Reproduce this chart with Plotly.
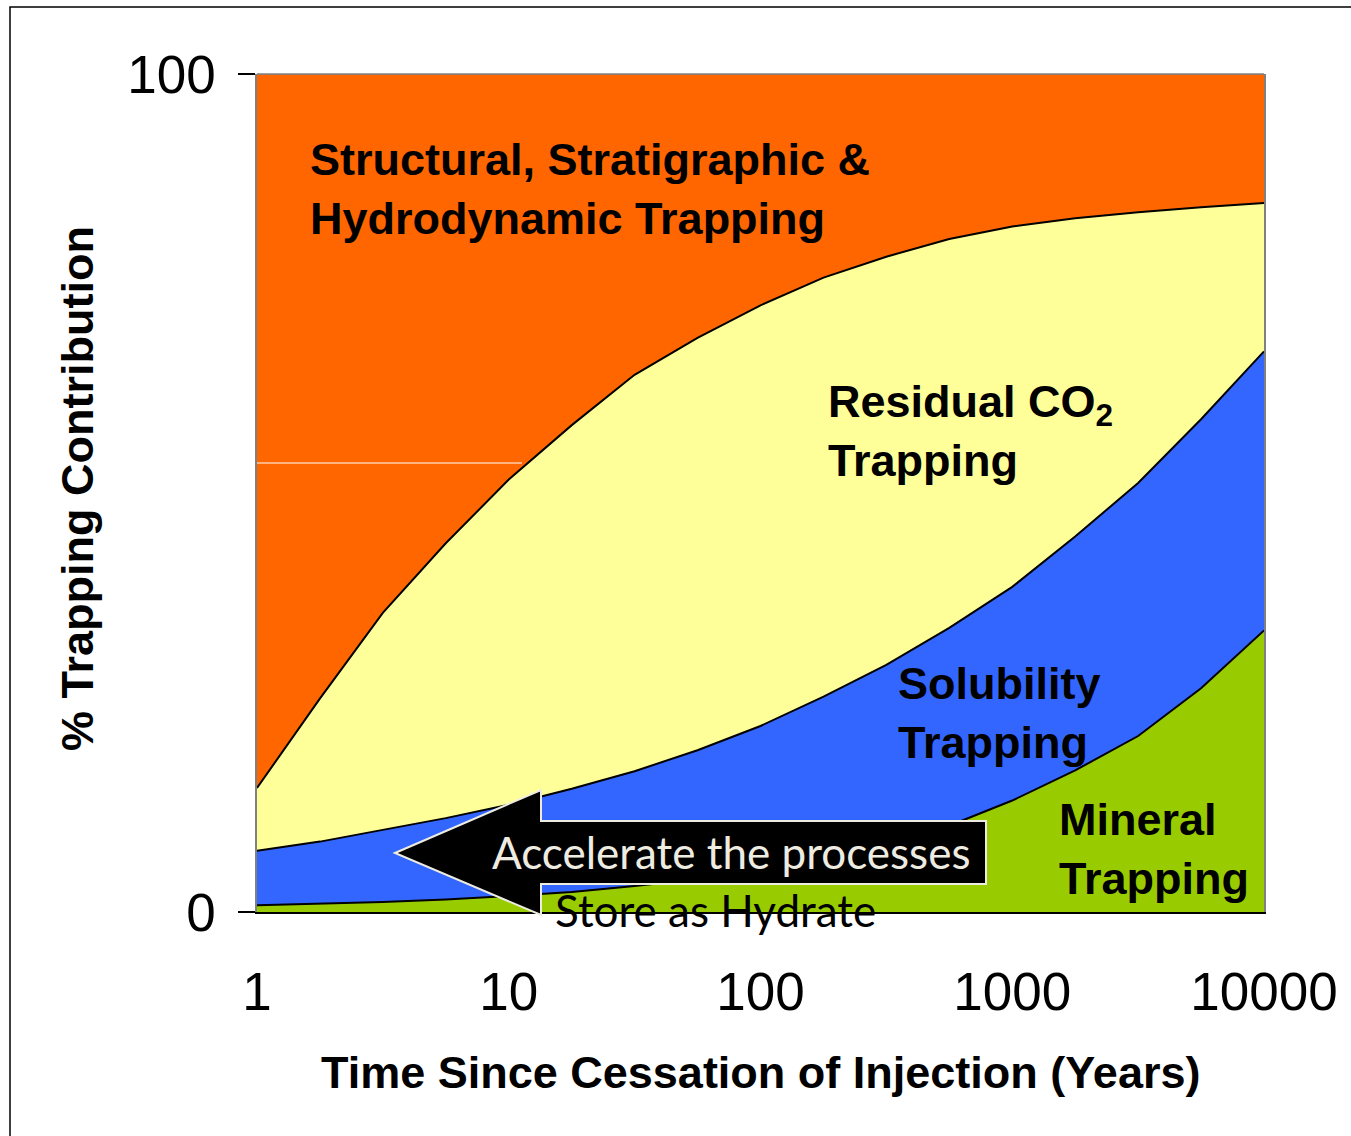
import plotly.graph_objects as go

# ---- data ----
years = [1, 1.78, 3.16, 5.62, 10, 17.8, 31.6, 56.2, 100, 178, 316, 562,
         1000, 1778, 3162, 5623, 10000]
# cumulative boundaries (% of total), bottom to top
mineral_top = [0.8, 1.0, 1.2, 1.5, 1.9, 2.4, 3.1, 3.9, 5.0, 6.3, 8.0, 10.3,
               13.3, 16.9, 21.0, 26.7, 33.6]
solubility_top = [7.3, 8.4, 9.8, 11.2, 12.8, 14.7, 16.8, 19.3, 22.2, 25.7,
                  29.5, 33.9, 38.8, 44.8, 51.2, 58.8, 66.9]
residual_top = [14.8, 25.5, 35.7, 44.0, 51.6, 58.1, 64.1, 68.5, 72.4, 75.7,
                78.2, 80.3, 81.8, 82.8, 83.5, 84.1, 84.6]

mineral = mineral_top
solubility = [s - m for s, m in zip(solubility_top, mineral_top)]
residual = [r - s for r, s in zip(residual_top, solubility_top)]
structural = [100 - r for r in residual_top]

tick_vals = [1, 10, 100, 1000, 10000]
tick_text = ["1", "10", "100", "1000", "10000"]

# ---- figure ----
W, H = 1351, 1136
L, R, T, B = 257, 1351 - 1264, 74, 1136 - 912
PW, PH = W - L - R, H - T - B


def px(x):
    return (x - L) / PW


def py(y):
    return (H - B - y) / PH


fig = go.Figure()
series = [
    ("Mineral Trapping", mineral, "#99CC00", "black", 2),
    ("Solubility Trapping", solubility, "#3366FF", "black", 2),
    ("Residual CO2 Trapping", residual, "#FFFF99", "black", 2),
    ("Structural, Stratigraphic & Hydrodynamic Trapping", structural,
     "#FF6600", "#808080", 1),
]
for name, vals, fc, lc, lw in series:
    fig.add_trace(go.Scatter(
        x=years, y=vals, name=name, mode="lines", stackgroup="one",
        fillcolor=fc, line=dict(color=lc, width=lw), hoverinfo="skip"))

AX_FONT = "Liberation Sans, Arial, sans-serif"
TXT_FONT = "Lato, 'Open Sans', sans-serif"

fig.update_layout(
    width=W, height=H,
    margin=dict(l=L, r=R, t=T, b=B, pad=0),
    paper_bgcolor="white", plot_bgcolor="white",
    showlegend=False,
    font=dict(family=AX_FONT, color="black"),
)
fig.update_xaxes(
    type="log", range=[0, 4], tickvals=tick_vals, ticktext=tick_text,
    showgrid=False, zeroline=False, ticks="", showline=True,
    linecolor="black", linewidth=1.5,
    tickfont=dict(size=53, family=AX_FONT), ticklabelstandoff=33,
)
fig.update_yaxes(
    range=[0, 100], tickvals=[0, 100], ticktext=["0", "100"],
    showgrid=False, zeroline=False, ticks="outside", ticklen=17,
    tickcolor="black", tickwidth=1.5, showline=True, linecolor="#808080",
    linewidth=1.5, mirror=True,
    tickfont=dict(size=53, family=AX_FONT), ticklabelstandoff=12,
)

shapes = []
# top frame of plot area
shapes.append(dict(type="line", xref="paper", yref="paper", x0=0, x1=1,
                   y0=1, y1=1, line=dict(color="#808080", width=1.5)))
# thin white line in the orange area
shapes.append(dict(type="line", xref="paper", yref="paper", x0=0,
                   x1=px(522), y0=py(463), y1=py(463),
                   line=dict(color="white", width=1)))
# arrow
pts = [(395, 853), (541, 790), (541, 821), (986, 821), (986, 884),
       (541, 884), (541, 915)]
path = "M " + " L ".join(f"{px(a):.5f},{py(b):.5f}" for a, b in pts) + " Z"
shapes.append(dict(type="path", xref="paper", yref="paper", path=path,
                   fillcolor="black", line=dict(color="#EEECE1", width=2)))
# outer frame
shapes.append(dict(type="rect", xref="paper", yref="paper",
                   x0=px(10), x1=px(1400), y0=py(1200), y1=py(7),
                   line=dict(color="black", width=1.5),
                   fillcolor="rgba(0,0,0,0)"))
fig.update_layout(shapes=shapes)

BOLD = dict(family=AX_FONT, size=45, color="black")
ann = [
    dict(text="<b>Structural, Stratigraphic &amp;<br>Hydrodynamic Trapping</b>",
         x=px(308), y=py(189), xanchor="left", yanchor="middle",
         align="left", font=BOLD),
    dict(text="<b>Residual CO<sub>2</sub><br>Trapping</b>",
         x=px(826), y=py(431), xanchor="left", yanchor="middle",
         align="left", font=BOLD),
    dict(text="<b>Solubility<br>Trapping</b>",
         x=px(896), y=py(713), xanchor="left", yanchor="middle",
         align="left", font=BOLD),
    dict(text="<b>Mineral<br>Trapping</b>",
         x=px(1057), y=py(849), xanchor="left", yanchor="middle",
         align="left", font=BOLD),
    dict(text="Accelerate the processes",
         x=px(731), y=py(852), xanchor="center", yanchor="middle",
         font=dict(family=TXT_FONT, size=44, color="#EEECE1")),
    dict(text="Store as Hydrate",
         x=px(553), y=py(910), xanchor="left", yanchor="middle",
         font=dict(family=TXT_FONT, size=44, color="black")),
    dict(text="<b>Time Since Cessation of Injection (Years)</b>",
         x=px(760), y=py(1072), xanchor="center", yanchor="middle",
         font=BOLD),
    dict(text="<b>% Trapping Contribution</b>", textangle=-90,
         x=px(77), y=py(489), xanchor="center", yanchor="middle",
         font=BOLD),
]
for a in ann:
    a.update(xref="paper", yref="paper", showarrow=False)
fig.update_layout(annotations=ann)

fig.write_html("out.html", config={"displayModeBar": False},
               post_script="document.body.style.margin='0';"
                           "document.body.style.overflow='hidden';")
